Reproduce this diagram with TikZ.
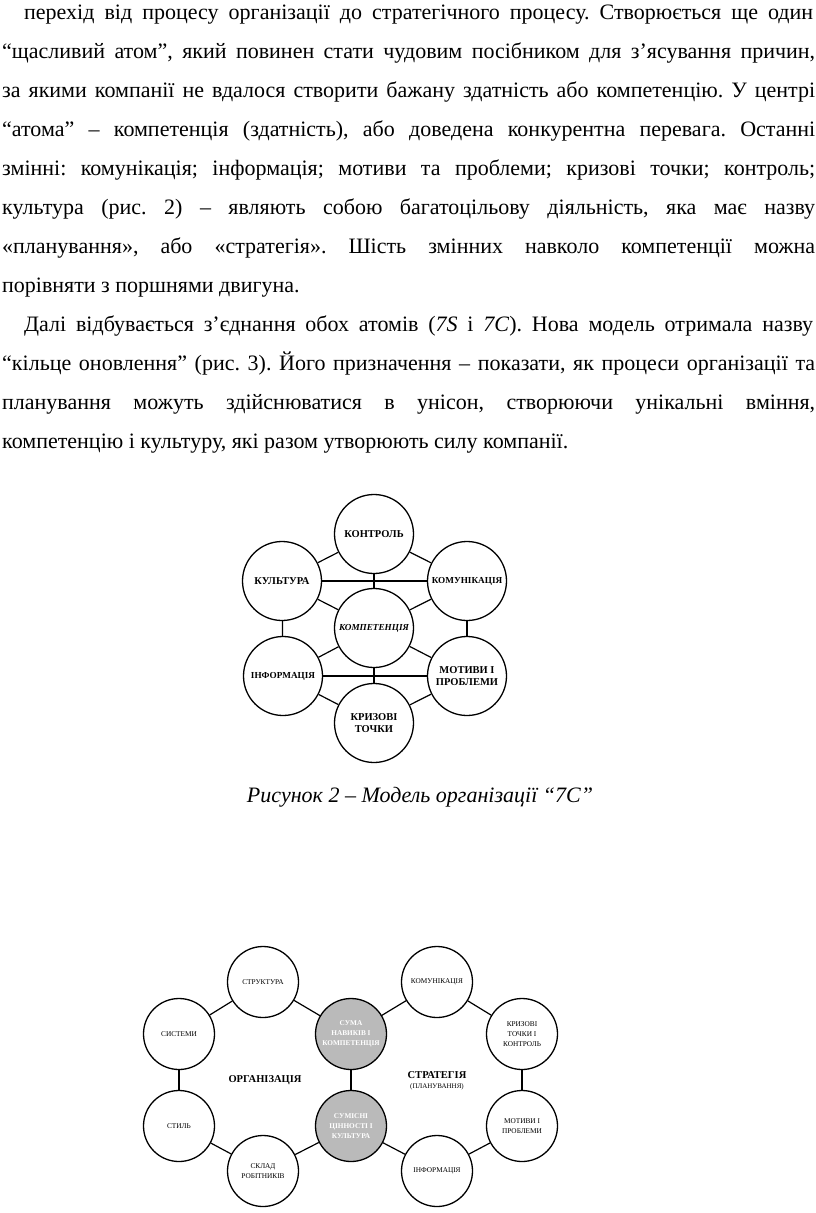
\documentclass[tikz,border=0pt]{standalone}
\usepackage{fontspec}
\setmainfont{Liberation Serif}
\frenchspacing
\newlength{\linew}
\setlength{\linew}{813pt}
\newcommand{\jline}[2]{\makebox[#1][s]{#2}}
\tikzset{
  body/.style={anchor=mid west, inner sep=0pt, font=\fontsize{22}{26}\selectfont},
  cone/.style={circle, draw, fill=white, line width=1.3pt, minimum size=79pt, inner sep=0pt, align=center, font=\fontsize{10.5}{12}\selectfont\bfseries},
  ctwo/.style={circle, draw, fill=white, line width=1.3pt, minimum size=71pt, inner sep=0pt, align=center, font=\fontsize{7.3}{9.8}\selectfont},
  cgray/.style={ctwo, fill=black!27, text=white, font=\fontsize{7.3}{9.8}\selectfont\bfseries},
  conn/.style={line width=1.2pt},
}
\begin{document}
\begin{tikzpicture}[x=1pt,y=-1pt]
\path[use as bounding box, fill=white] (0,0) rectangle (816,1213);
% text
\node[body] (l1) at (24,17) {\jline{789pt}{перехід від процесу організації до стратегічного процесу. Створюється ще один}};
\node[body] (l2) at (2,56) {\jline{\linew}{“щасливий атом”, який повинен стати чудовим посібником для з’ясування причин,}};
\node[body] (l3) at (2,95) {\jline{\linew}{за якими компанії не вдалося створити бажану здатність або компетенцію. У центрі}};
\node[body] (l4) at (2,134) {\jline{\linew}{“атома” – компетенція (здатність), або доведена конкурентна перевага. Останні}};
\node[body] (l5) at (2,173) {\jline{\linew}{змінні: комунікація; інформація; мотиви та проблеми; кризові точки; контроль;}};
\node[body] (l6) at (2,212) {\jline{\linew}{культура (рис. 2) – являють собою багатоцільову діяльність, яка має назву}};
\node[body] (l7) at (2,251) {\jline{\linew}{«планування», або «стратегія». Шість змінних навколо компетенції можна}};
\node[body] (l8) at (2,290) {порівняти з поршнями двигуна.};
\node[body] (l9) at (24,329) {\jline{789pt}{Далі відбувається з’єднання обох атомів (\textit{7S} і \textit{7C}). Нова модель отримала назву}};
\node[body] (l10) at (2,368) {\jline{\linew}{“кільце оновлення” (рис. 3). Його призначення – показати, як процеси організації та}};
\node[body] (l11) at (2,407) {\jline{\linew}{планування можуть здійснюватися в унісон, створюючи унікальні вміння,}};
\node[body] (l12) at (2,446) {компетенцію і культуру, які разом утворюють силу компанії.};
% diagram 1
\node[cone] (kon) at (374,534) {КОНТРОЛЬ};
\node[cone] (kul) at (282,581) {КУЛЬТУРА};
\node[cone, font=\fontsize{9.2}{11}\selectfont\bfseries] (kom) at (467,581) {КОМУНІКАЦІЯ};
\node[cone, font=\fontsize{9.2}{11}\selectfont\bfseries\itshape] (cmp) at (374,628) {КОМПЕТЕНЦІЯ};
\node[cone, font=\fontsize{9.2}{11}\selectfont\bfseries] (inf) at (283,676) {ІНФОРМАЦІЯ};
\node[cone] (mot) at (467,676) {МОТИВИ І\\ПРОБЛЕМИ};
\node[cone] (kri) at (374,723) {КРИЗОВІ\\ТОЧКИ};
\foreach \a/\b in {kon/kul, kon/kom, kon/cmp, kul/kom, kul/cmp, kom/cmp, kul/inf, kom/mot, inf/cmp, mot/cmp, inf/mot, inf/kri, mot/kri, cmp/kri}
  \draw[conn] (\a) -- (\b);
\node[font=\fontsize{22}{26}\selectfont\itshape, inner sep=0pt] (cap) at (420,797) {Рисунок 2 – Модель організації “7С”};
% diagram 2
\node[ctwo] (str) at (263,982) {СТРУКТУРА};
\node[ctwo] (kom2) at (437,982) {КОМУНІКАЦІЯ};
\node[ctwo] (sys) at (179,1034) {СИСТЕМИ};
\node[cgray] (g1) at (351,1034) {СУМА\\НАВИКІВ І\\КОМПЕТЕНЦІЯ};
\node[ctwo] (kri2) at (522,1034) {КРИЗОВІ\\ТОЧКИ І\\КОНТРОЛЬ};
\node[ctwo] (sty) at (179,1126) {СТИЛЬ};
\node[cgray] (g2) at (351,1126) {СУМІСНІ\\ЦІННОСТІ І\\КУЛЬТУРА};
\node[ctwo] (mot2) at (522,1126) {МОТИВИ І\\ПРОБЛЕМИ};
\node[ctwo] (skl) at (263,1171) {СКЛАД\\РОБІТНИКІВ};
\node[ctwo] (inf2) at (437,1171) {ІНФОРМАЦІЯ};
\node[font=\fontsize{10.5}{12}\selectfont\bfseries, inner sep=0pt] (org) at (265,1080) {ОРГАНІЗАЦІЯ};
\node[font=\fontsize{10.5}{12}\selectfont\bfseries, inner sep=0pt] (strat) at (437,1075) {СТРАТЕГІЯ};
\node[font=\fontsize{7}{9}\selectfont, inner sep=0pt] (plan) at (437,1087) {(ПЛАНУВАННЯ)};
\foreach \a/\b in {str/g1, g1/kom2, kom2/kri2, kri2/mot2, mot2/inf2, inf2/g2, g2/skl, skl/sty, sty/sys, sys/str, g1/g2}
  \draw[conn] (\a) -- (\b);
\end{tikzpicture}
\end{document}
